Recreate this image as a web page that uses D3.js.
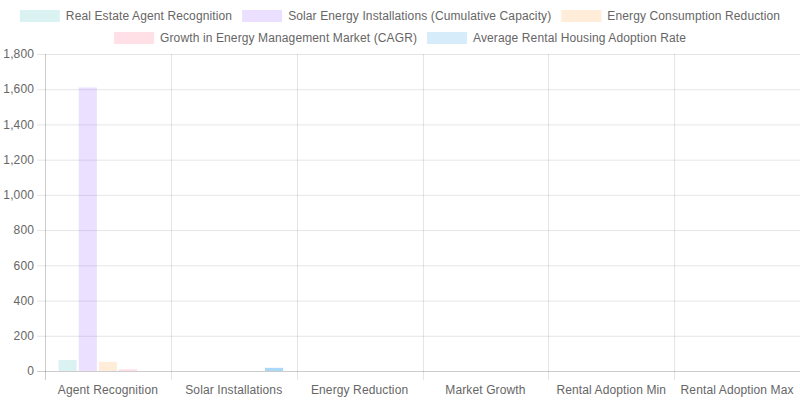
<!DOCTYPE html>
<html>
<head>
<meta charset="utf-8">
<script src="https://cdn.jsdelivr.net/npm/d3@7"></script>
<style>
  body { margin: 0; background: #fff; }
  text { font-family: "Liberation Sans", Helvetica, Arial, sans-serif; letter-spacing: 0.12px; }
</style>
</head>
<body>
<svg id="chart" width="800" height="400"></svg>
<script>
// categories on the x axis
let categories = ["Agent Recognition", "Solar Installations", "Energy Reduction",
                  "Market Growth", "Rental Adoption Min", "Rental Adoption Max"];

// one array per dataset, one value per category
let agentRecognition = [62, 0, 0, 0, 0, 0];
let solarCapacity = [1610, 0, 0, 0, 0, 0];
let energyReduction = [52, 0, 0, 0, 0, 0];
let marketCagr = [10, 0, 0, 0, 0, 0];
let rentalAdoption = [0, 18, 0, 0, 0, 0];

let seriesNames = ["Real Estate Agent Recognition", "Solar Energy Installations (Cumulative Capacity)",
                   "Energy Consumption Reduction", "Growth in Energy Management Market (CAGR)",
                   "Average Rental Housing Adoption Rate"];
let seriesValues = [agentRecognition, solarCapacity, energyReduction, marketCagr, rentalAdoption];

let yTicks = [0, 200, 400, 600, 800, 1000, 1200, 1400, 1600, 1800];

let legendColors = ["rgba(75,192,192,0.2)", "rgba(153,102,255,0.2)", "rgba(255,159,64,0.2)",
                    "rgba(255,99,132,0.2)", "rgba(54,162,235,0.2)"];
let barColors = ["rgba(75,192,192,0.2)", "rgba(153,102,255,0.2)", "rgba(255,159,64,0.2)",
                 "rgba(255,99,132,0.2)", "rgba(54,162,235,0.42)"];

const svg = d3.select("#chart");
const plotLeft = 45, plotRight = 800, plotTop = 54, plotBottom = 371;

// legend, wrapped into centered rows like chart.js does
const legend = svg.append("g");
let items = seriesNames.map((name, i) => {
    let t = legend.append("text").attr("font-size", 12).text(name);
    let w = t.node().getComputedTextLength();
    t.remove();
    return {name: name, i: i, w: 40 + 6 + w};
});
let rows = [[]], rowW = [0];
items.forEach(it => {
    let r = rows.length - 1;
    if (rowW[r] + it.w + 10 > 790 && rows[r].length) { rows.push([]); rowW.push(0); r++; }
    rows[r].push(it);
    rowW[r] += it.w + (rows[r].length > 1 ? 10 : 0);
});
rows.forEach((row, r) => {
    let x = 400 - rowW[r] / 2;
    let cy = 16 + r * 22;
    row.forEach(it => {
        legend.append("rect")
            .attr("x", x).attr("y", cy - 6).attr("width", 40).attr("height", 12)
            .attr("fill", legendColors[it.i]);
        legend.append("text")
            .attr("x", x + 46).attr("y", cy).attr("dy", "0.35em")
            .attr("font-size", 12).attr("fill", "#666").text(it.name);
        x += it.w + 10;
    });
});

// scales
let x0 = d3.scaleBand().domain(categories).range([plotLeft, plotRight]);
let x1 = d3.scaleBand().domain(d3.range(seriesNames.length))
    .range([x0.bandwidth() * 0.1, x0.bandwidth() * 0.9])
    .paddingInner(0.1).paddingOuter(0.05);
let y = d3.scaleLinear().domain([0, 1800]).range([plotBottom, plotTop]);

// horizontal grid
svg.append("g").selectAll("line").data(yTicks).enter().append("line")
    .attr("x1", plotLeft - 8).attr("x2", plotRight)
    .attr("y1", d => y(d) + 0.5).attr("y2", d => y(d) + 0.5)
    .attr("stroke", d => d === 0 ? "rgba(0,0,0,0.2)" : "rgba(0,0,0,0.1)");

// vertical grid at category boundaries
let bounds = categories.map(c => x0(c)).concat([plotRight]);
svg.append("g").selectAll("line").data(bounds).enter().append("line")
    .attr("x1", d => Math.round(d) + 0.5).attr("x2", d => Math.round(d) + 0.5)
    .attr("y1", plotTop).attr("y2", plotBottom + 9)
    .attr("stroke", (d, i) => i === 0 ? "rgba(0,0,0,0.2)" : "rgba(0,0,0,0.1)");

// y tick labels
svg.append("g").selectAll("text").data(yTicks).enter().append("text")
    .attr("x", plotLeft - 11).attr("y", d => y(d)).attr("dy", "0.35em")
    .attr("text-anchor", "end").attr("font-size", 12).attr("fill", "#666")
    .text(d => d3.format(",")(d));

// x labels
svg.append("g").selectAll("text").data(categories).enter().append("text")
    .attr("x", d => x0(d) + x0.bandwidth() / 2).attr("y", plotBottom + 19).attr("dy", "0.35em")
    .attr("text-anchor", "middle").attr("font-size", 12).attr("fill", "#666")
    .text(d => d);

// bars
seriesValues.forEach((vals, s) => {
    svg.append("g").selectAll("rect").data(vals).enter().append("rect")
        .attr("x", (d, i) => x0(categories[i]) + x1(s))
        .attr("width", x1.bandwidth())
        .attr("y", d => y(d))
        .attr("height", d => y(0) - y(d))
        .attr("fill", barColors[s]);
});
</script>
</body>
</html>
